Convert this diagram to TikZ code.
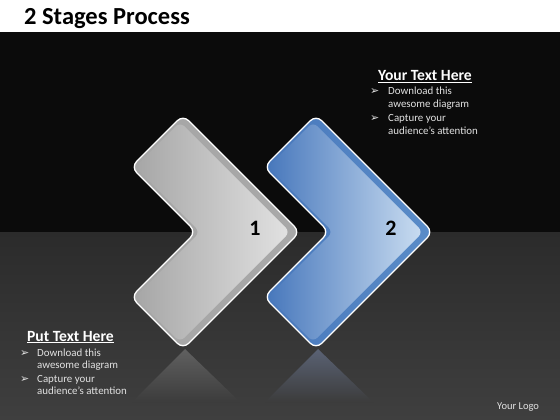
\documentclass[tikz,border=0pt]{standalone}
\usepackage{fontspec}
\setmainfont{Carlito}
\newfontfamily\dejavu{DejaVu Sans}
\definecolor{bgblack}{HTML}{0B0B0B}
\definecolor{floortop}{HTML}{2B2B2B}
\definecolor{floorbot}{HTML}{3F3F3F}
\definecolor{txtgray}{HTML}{E2E2E2}
\definecolor{grayA}{HTML}{A6A6A6}
\definecolor{grayB}{HTML}{D2D2D2}
\definecolor{grayC}{HTML}{E2E2E2}
\definecolor{grayband}{HTML}{A8A8A8}
\definecolor{blueA}{HTML}{4878BC}
\definecolor{blueB}{HTML}{AFCAE8}
\definecolor{blueC}{HTML}{CADDF1}
\definecolor{blueband}{HTML}{5A8CC8}
\definecolor{reflgray}{HTML}{606060}
\definecolor{reflblue}{HTML}{5A6274}
\definecolor{reflend}{HTML}{3C3C3C}
\newcommand\chevouter[1]{\path[#1] (25,141) -- (51,115) -- (168,232) -- (51,349) -- (-1,297) -- (64,232) -- (-1,167) -- cycle;}
\newcommand\chevinner[1]{\path[#1] (25,145) -- (48,122) -- (158,232) -- (48,342) -- (3,297) -- (68,232) -- (3,167) -- cycle;}
\tikzset{
  outerface/.style={rounded corners=8pt},
  innerface/.style={rounded corners=6pt},
  rim/.style={draw=white, line width=1.3pt, rounded corners=8pt},
  hdr/.style={font=\bfseries\fontsize{15.6}{18}\selectfont, text=white, inner sep=0pt},
  btxt/.style={font=\fontsize{10.9}{12}\selectfont, text=txtgray, anchor=base west, inner sep=0pt},
  bul/.style={font=\dejavu\fontsize{11}{12}\selectfont, text=txtgray, anchor=base west, inner sep=0pt},
  num/.style={font=\bfseries\fontsize{22}{24}\selectfont, text=black, inner sep=0pt}
}
\begin{document}
\begin{tikzpicture}[x=1pt,y=-1pt]
\useasboundingbox (0,0) rectangle (560,420);
\fill[white] (0,0) rectangle (560,32);
\fill[bgblack] (0,32) rectangle (560,232);
\shade[top color=floortop, bottom color=floorbot] (0,232) rectangle (560,420);
% reflections
\shade[top color=reflgray, bottom color=reflend] (185,349) -- (132,402) -- (240,402) -- cycle;
\shade[top color=reflblue, bottom color=reflend] (318,349) -- (265,402) -- (373,402) -- cycle;
% chevron 1
\begin{scope}[shift={(132,0)}]
  \chevouter{outerface, left color=grayA, right color=grayband}
  \chevinner{innerface, left color=grayA, middle color=grayB, right color=grayC}
  \chevouter{rim}
\end{scope}
% chevron 2
\begin{scope}[shift={(265,0)}]
  \chevouter{outerface, left color=blueA, right color=blueband}
  \chevinner{innerface, left color=blueA, middle color=blueB, right color=blueC}
  \chevouter{rim}
\end{scope}
\node[num] (n1) at (255,228) {1};
\node[num] (n2) at (391,228) {2};
% title
\node[anchor=base west, inner sep=0pt, font=\bfseries\fontsize{24.5}{28}\selectfont] (title) at (24,25) {2 Stages Process};
% upper right text
\node[hdr, anchor=base] (h1) at (425,81) {\underline{Your Text Here}};
\node[bul] (b1) at (370,95) {➢};
\node[btxt] (t1) at (388,95) {Download this};
\node[btxt] (t2) at (388,107.5) {awesome diagram};
\node[bul] (b2) at (370,121.5) {➢};
\node[btxt] (t3) at (388,121.5) {Capture your};
\node[btxt] (t4) at (388,134) {audience’s attention};
% lower left text
\node[hdr, anchor=base] (h2) at (70.5,341) {\underline{Put Text Here}};
\node[bul] (b3) at (20,356) {➢};
\node[btxt] (u1) at (37,356) {Download this};
\node[btxt] (u2) at (37,368.5) {awesome diagram};
\node[bul] (b4) at (20,382) {➢};
\node[btxt] (u3) at (37,382) {Capture your};
\node[btxt] (u4) at (37,394.5) {audience’s attention};
% logo
\node[anchor=base west, inner sep=0pt, font=\fontsize{10.5}{12}\selectfont, text=txtgray] (logo) at (497,409) {Your Logo};
\end{tikzpicture}
\end{document}
